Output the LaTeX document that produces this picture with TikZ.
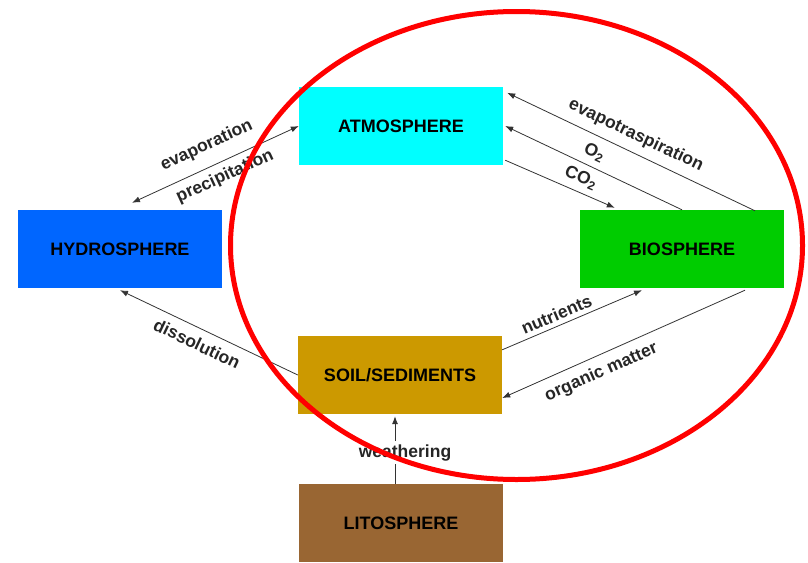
\documentclass[tikz,border=0pt]{standalone}
\usepackage{fontspec}
\setmainfont{Liberation Sans}
\usetikzlibrary{arrows.meta,positioning}
\definecolor{atmcol}{HTML}{00FFFF}
\definecolor{hydcol}{HTML}{0066FF}
\definecolor{biocol}{HTML}{00CC00}
\definecolor{soilcol}{HTML}{CC9900}
\definecolor{litcol}{HTML}{996633}

\begin{document}
\begin{tikzpicture}[x=1pt,y=-1pt,>={Latex[length=8pt,width=6pt]},
  sphere/.style={minimum width=204pt,minimum height=78pt,inner sep=0pt,
    font=\fontsize{18}{20}\selectfont\bfseries},
  flow/.style={draw=black!80,line width=0.8pt},
  lbl/.style={font=\fontsize{17.5}{19}\selectfont\bfseries,text=black!85}]
  \useasboundingbox (0,0) rectangle (808,562);

  \node[sphere,fill=atmcol] (atm) at (401,126) {ATMOSPHERE};     % top
  \node[sphere,fill=hydcol] (hyd) at (120,249) {HYDROSPHERE};    % left
  \node[sphere,fill=biocol] (bio) at (682,249) {BIOSPHERE};      % right
  \node[sphere,fill=soilcol] (soil) at (400,375) {SOIL/SEDIMENTS}; % middle
  \node[sphere,fill=litcol] (lit) at (401,523) {LITOSPHERE};     % bottom

  \draw[flow,<->] ([xshift=12pt,yshift=7pt]hyd.north) --
    node[lbl,sloped,pos=0.5,above=9pt]{evaporation}
    node[lbl,sloped,pos=0.52,below=3pt]{precipitation} (atm.west);

  \draw[flow,->] ([xshift=73pt,yshift=-1pt]bio.north) --
    node[lbl,sloped,pos=0.51,above=5pt]{evapotraspiration}
    ([xshift=4pt,yshift=-6pt]atm.north east);
  \draw[flow,->] (bio.north) --
    node[lbl,sloped,pos=0.53,above=3pt]{O\textsubscript{2}} ([xshift=2pt]atm.east);
  \draw[flow,->] ([xshift=2pt,yshift=5pt]atm.south east) --
    node[lbl,sloped,pos=0.64,above=3pt]{CO\textsubscript{2}}
    ([xshift=35pt,yshift=2pt]bio.north west);

  \draw[flow,->] (soil.west) --
    node[lbl,sloped,pos=0.53,below=5pt]{dissolution} ([yshift=-2pt]hyd.south);

  \draw[flow,->] ([yshift=-14pt]soil.north east) --
    node[lbl,sloped,pos=0.42,above=1pt]{nutrients} ([xshift=-40pt,yshift=-2pt]bio.south);
  \draw[flow,->] ([xshift=63pt,yshift=-2pt]bio.south) --
    node[lbl,sloped,pos=0.62,below=5pt]{organic matter} ([yshift=-23pt]soil.east);

  \draw[flow,->] ([xshift=-6pt]lit.north) --
    node[lbl,pos=0.46,xshift=10pt,fill=white]{weathering}
    ([xshift=-5pt,yshift=-2pt]soil.south);

  \draw[red,line width=5pt] (516.5,245.5) ellipse [x radius=286,y radius=234]; % cycle ring
\end{tikzpicture}
\end{document}
